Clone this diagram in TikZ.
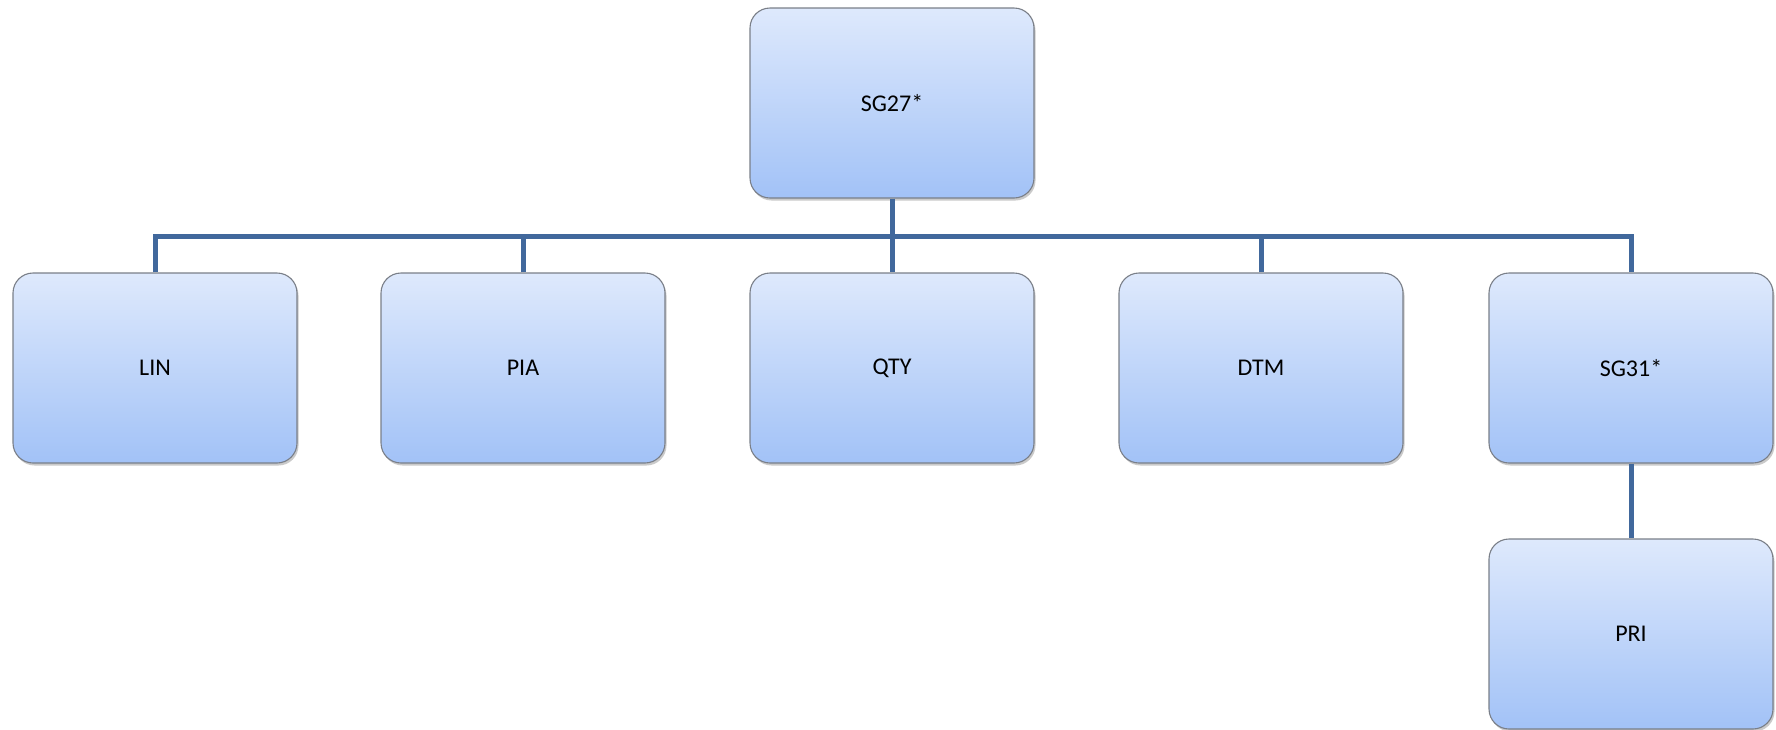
\documentclass[tikz,border=0pt]{standalone}
\usepackage{fontspec}
\setmainfont{Carlito}
\usetikzlibrary{shadows}
\definecolor{topc}{HTML}{DEE9FC}
\definecolor{botc}{HTML}{A2C2F7}
\definecolor{edgec}{HTML}{7A7F88}
\definecolor{linkc}{HTML}{41689C}
\tikzset{
  box/.style={draw=edgec, line width=1.1pt, rounded corners=20pt,
    top color=topc, bottom color=botc, minimum width=284pt, minimum height=190pt,
    inner sep=0pt, font=\fontsize{24}{28}\selectfont,
    drop shadow={shadow xshift=1.5pt, shadow yshift=-2.5pt, opacity=0.35, fill=black!60}},
  link/.style={draw=linkc, line width=5pt}
}
\begin{document}
\begin{tikzpicture}[x=1pt,y=-1pt]
\useasboundingbox (0,0) rectangle (1776,729);
\node[box] (sg27) at (892,103) {SG27*};
\node[box] (lin) at (155,368) {LIN};
\node[box] (pia) at (523,368) {PIA};
\node[box] (qty) at (892,368) {QTY};
\node[box] (dtm) at (1261,368) {DTM};
\node[box] (sg31) at (1631,368) {SG31*};
\node[box] (pri) at (1631,634) {PRI};
\coordinate (bar) at (892,236);
\begin{scope}[on background layer/.try]
\draw[link] (sg27.south) -- (qty.north);
\draw[link, line join=miter] (lin.north) |- (bar) -| (sg31.north);
\draw[link] (pia.north) -- (pia.north |- bar);
\draw[link] (dtm.north) -- (dtm.north |- bar);
\draw[link] (sg31.south) -- (pri.north);
\end{scope}
\end{tikzpicture}
\end{document}
